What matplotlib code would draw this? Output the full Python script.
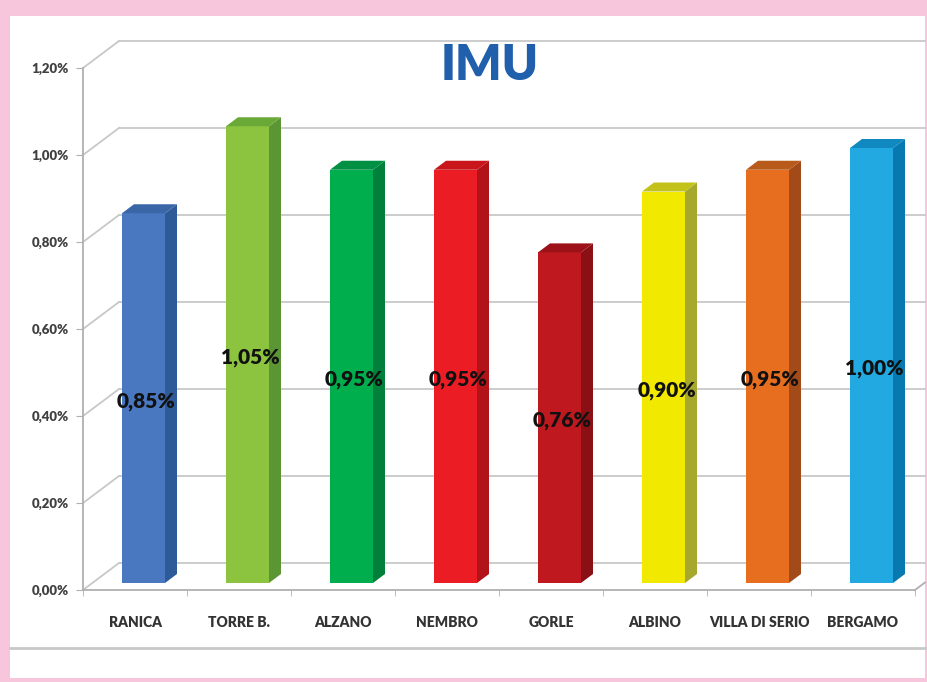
import numpy as np
import matplotlib
matplotlib.use("Agg")
import matplotlib.pyplot as plt
from matplotlib.patches import Polygon, Rectangle
from matplotlib.lines import Line2D

plt.rcParams['font.family'] = ['Lato', 'DejaVu Sans']

comuni = ["RANICA", "TORRE B.", "ALZANO", "NEMBRO", "GORLE", "ALBINO", "VILLA DI SERIO", "BERGAMO"]
imu = [0.85, 1.05, 0.95, 0.95, 0.76, 0.90, 0.95, 1.00]
front_col = ["#4a78c0", "#8cc43f", "#00ae4d", "#ec1c24", "#c0181f", "#f2e900", "#e86e1f", "#22a9e1"]
side_col = ["#2f5a98", "#5c9534", "#00803a", "#b21318", "#8a1015", "#a6a82e", "#a24a18", "#0878b0"]
top_col = ["#3a66a8", "#6aa838", "#009044", "#c8161c", "#9c1218", "#c2c21a", "#b85a1a", "#1088c0"]
yticks = [0.0, 0.2, 0.4, 0.6, 0.8, 1.0, 1.2]

W, H = 928, 682
fig = plt.figure(figsize=(W / 100, H / 100), dpi=100, facecolor="#f7c6dc")
fig.patches.append(Rectangle((10 / W, 4 / H), 915 / W, 662 / H, transform=fig.transFigure,
                             facecolor="white", edgecolor="none", zorder=-5))
fig.add_artist(Line2D([10 / W, 925 / W], [1 - 648 / H, 1 - 648 / H], color="#c8c8c8", lw=2, zorder=-4))

# front plane of the axes: x 83..915 px, y 590..68 px
ax = fig.add_axes([83 / W, (H - 590) / H, 832 / W, 522 / H])
ax.set_xlim(-0.5, 7.5)
ax.set_ylim(0, 1.2)
ax.patch.set_alpha(0)
for s in ax.spines.values():
    s.set_visible(False)

pxx = 1 / 104.0          # data units per pixel (x)
pxy = 1.2 / 522.0        # data units per pixel (y)
dxb, dyb = 36 * pxx, 27 * pxy   # back wall offset
xend = -0.5 + (925 - 83) * pxx

grid = "#c8c8c8"
for t in yticks:
    ax.plot([-0.5, -0.5 + dxb], [t, t + dyb], color=grid, lw=1.3, clip_on=False, zorder=1)
    ax.plot([-0.5 + dxb, xend], [t + dyb, t + dyb], color=grid, lw=1.3, clip_on=False, zorder=1)
ax.plot([-0.5, -0.5], [0, 1.2], color="#b0b0b0", lw=1.3, clip_on=False, zorder=2)
ax.plot([-0.5, 7.5], [0, 0], color="#b0b0b0", lw=1.3, clip_on=False, zorder=2)
ax.plot([7.5, xend], [0, (xend - 7.5) / dxb * dyb], color="#b0b0b0", lw=1.3, clip_on=False, zorder=2)

x = np.arange(len(comuni))
bw = 43 * pxx
xo, yo = 8.5 * pxx, 7 * pxy      # bar depth position
sx, sy = 12 * pxx, 9 * pxy       # bar side depth
for i, v in enumerate(imu):
    xl = x[i] + xo - bw / 2
    xr = xl + bw
    b = yo
    tp = yo + v
    ax.bar(x[i] + xo, v, width=bw, bottom=b, color=front_col[i], zorder=3, clip_on=False)
    ax.add_patch(Polygon([(xr, b), (xr + sx, b + sy), (xr + sx, tp + sy), (xr, tp)],
                         facecolor=side_col[i], edgecolor="none", zorder=3, clip_on=False))
    ax.add_patch(Polygon([(xl, tp), (xl + sx, tp + sy), (xr + sx, tp + sy), (xr, tp)],
                         facecolor=top_col[i], edgecolor="none", zorder=3, clip_on=False))
    ax.text(x[i] + xo + 3 * pxx, b + v / 2 - 3 * pxy, ("%.2f%%" % v).replace(".", ","),
            ha="center", va="center", fontsize=15, fontweight="heavy", color="#111111", zorder=5)

ax.set_yticks(yticks)
ax.set_yticklabels([("%.2f%%" % t).replace(".", ",") for t in yticks])
ax.tick_params(axis="y", length=5, color="#b0b0b0", pad=5, labelsize=9.5, labelcolor="#404040")
for lab in ax.get_yticklabels():
    lab.set_fontweight("heavy")
ax.set_xticks(x)
ax.set_xticklabels(comuni)
ax.tick_params(axis="x", length=0, pad=19, labelsize=10, labelcolor="#333333")
for lab in ax.get_xticklabels():
    lab.set_fontweight("heavy")
ax.set_xticks(np.arange(-0.5, 8.0, 1.0), minor=True)
ax.tick_params(axis="x", which="minor", length=4, color="#b0b0b0")

fig.text(490 / W, 1 - 65 / H, "IMU", ha="center", va="center", fontsize=35,
         fontweight="heavy", color="#1f5fab")

fig.savefig("out.png", dpi=100, facecolor=fig.get_facecolor())
